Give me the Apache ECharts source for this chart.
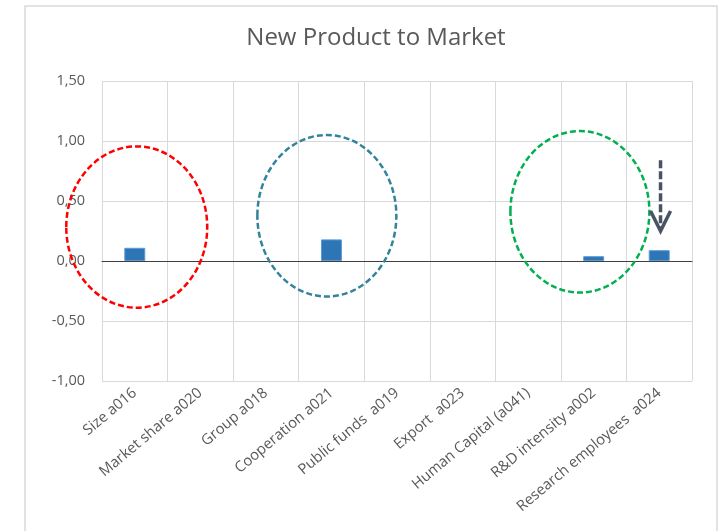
<!DOCTYPE html>
<html><head><meta charset="utf-8">
<script src="https://cdn.jsdelivr.net/npm/echarts@6/dist/echarts.min.js"></script>
<style>html,body{margin:0;padding:0;background:#fff}#c{width:718px;height:531px}</style>
</head><body><div id="c"></div>
<script>
const categories = ['Size a016','Market share a020','Group a018','Cooperation a021','Public funds  a019','Export  a023','Human Capital (a041)','R&D intensity a002','Research employees  a024'];
const values = [0.11, null, null, 0.18, null, null, null, 0.04, 0.09];
const yTicks = {min: -1, max: 1.5, interval: 0.5};
// annotation ellipses: category index + offset (in category widths), centre value, radii (cat widths, value units)
const ellipseCat = [0.03, 2.93, 6.79];
const ellipseVal = [0.283, 0.377, 0.41];
const ellipseRx = [1.075, 1.06, 1.06];
const ellipseRy = [0.672, 0.673, 0.673];
const ellipseColors = ['#ff0000', '#31849b', '#00b050'];
// arrow: category position and value range
const arrowCat = 8.02;
const arrowFrom = 0.84, arrowTo = 0.25;

const chart = echarts.init(document.getElementById('c'));
const font = '"Open Sans", "Noto Sans", sans-serif';
chart.setOption({
  animation: false,
  title: {text: 'New Product to Market', left: 371, top: 21, textAlign: 'center',
    textStyle: {fontFamily: font, fontSize: 24, fontWeight: 'normal', color: '#595959'}},
  grid: {left: 102, right: 26, top: 81, bottom: 150},
  xAxis: {type: 'category', data: categories,
    axisLine: {onZero: true, lineStyle: {color: '#404040', width: 1}},
    axisTick: {show: false},
    splitLine: {show: true, lineStyle: {color: '#d9d9d9'}},
    axisLabel: {rotate: 40, interval: 0, color: '#595959', fontFamily: font, fontSize: 14.8, margin: 10}},
  yAxis: {type: 'value', min: yTicks.min, max: yTicks.max, interval: yTicks.interval,
    axisLine: {show: false}, axisTick: {show: false},
    splitLine: {lineStyle: {color: '#d9d9d9'}},
    axisLabel: {color: '#595959', fontFamily: font, fontSize: 14.5, margin: 17,
      formatter: v => v.toFixed(2).replace('.', ',')}},
  series: [{type: 'bar', data: values, barWidth: '32%',
    itemStyle: {color: '#2e75b6', borderColor: '#5b9bd5', borderWidth: 1}}]
});

const grid = chart.getModel().getComponent('grid').coordinateSystem.getRect();
const catW = grid.width / categories.length;
const px = c => grid.x + (c + 0.5) * catW;
const py = v => chart.convertToPixel({yAxisIndex: 0}, v);
const unitY = py(0) - py(1);
const graphics = [{type: 'rect', shape: {x: 25, y: 6, width: 692, height: 540},
  style: {fill: null, stroke: '#d9d9d9', lineWidth: 1.5}, z: -1}];
ellipseCat.forEach((c, i) => {
  graphics.push({type: 'ellipse', shape: {cx: px(c), cy: py(ellipseVal[i]), rx: ellipseRx[i] * catW, ry: ellipseRy[i] * unitY},
    style: {fill: null, stroke: ellipseColors[i], lineWidth: 2.5, lineDash: [6, 3]}, z: 10});
});
const ax = px(arrowCat), ay1 = py(arrowFrom), ay2 = py(arrowTo);
graphics.push({type: 'line', shape: {x1: ax, y1: ay1, x2: ax, y2: ay2 - 4},
  style: {stroke: '#4a5361', lineWidth: 3.5, lineDash: [8, 3]}, z: 10});
graphics.push({type: 'polyline', shape: {points: [[ax - 10, ay2 - 20], [ax, ay2], [ax + 10, ay2 - 20]]},
  style: {stroke: '#4a5361', lineWidth: 3.5, fill: null}, z: 10});
chart.setOption({graphic: graphics});
</script></body></html>
